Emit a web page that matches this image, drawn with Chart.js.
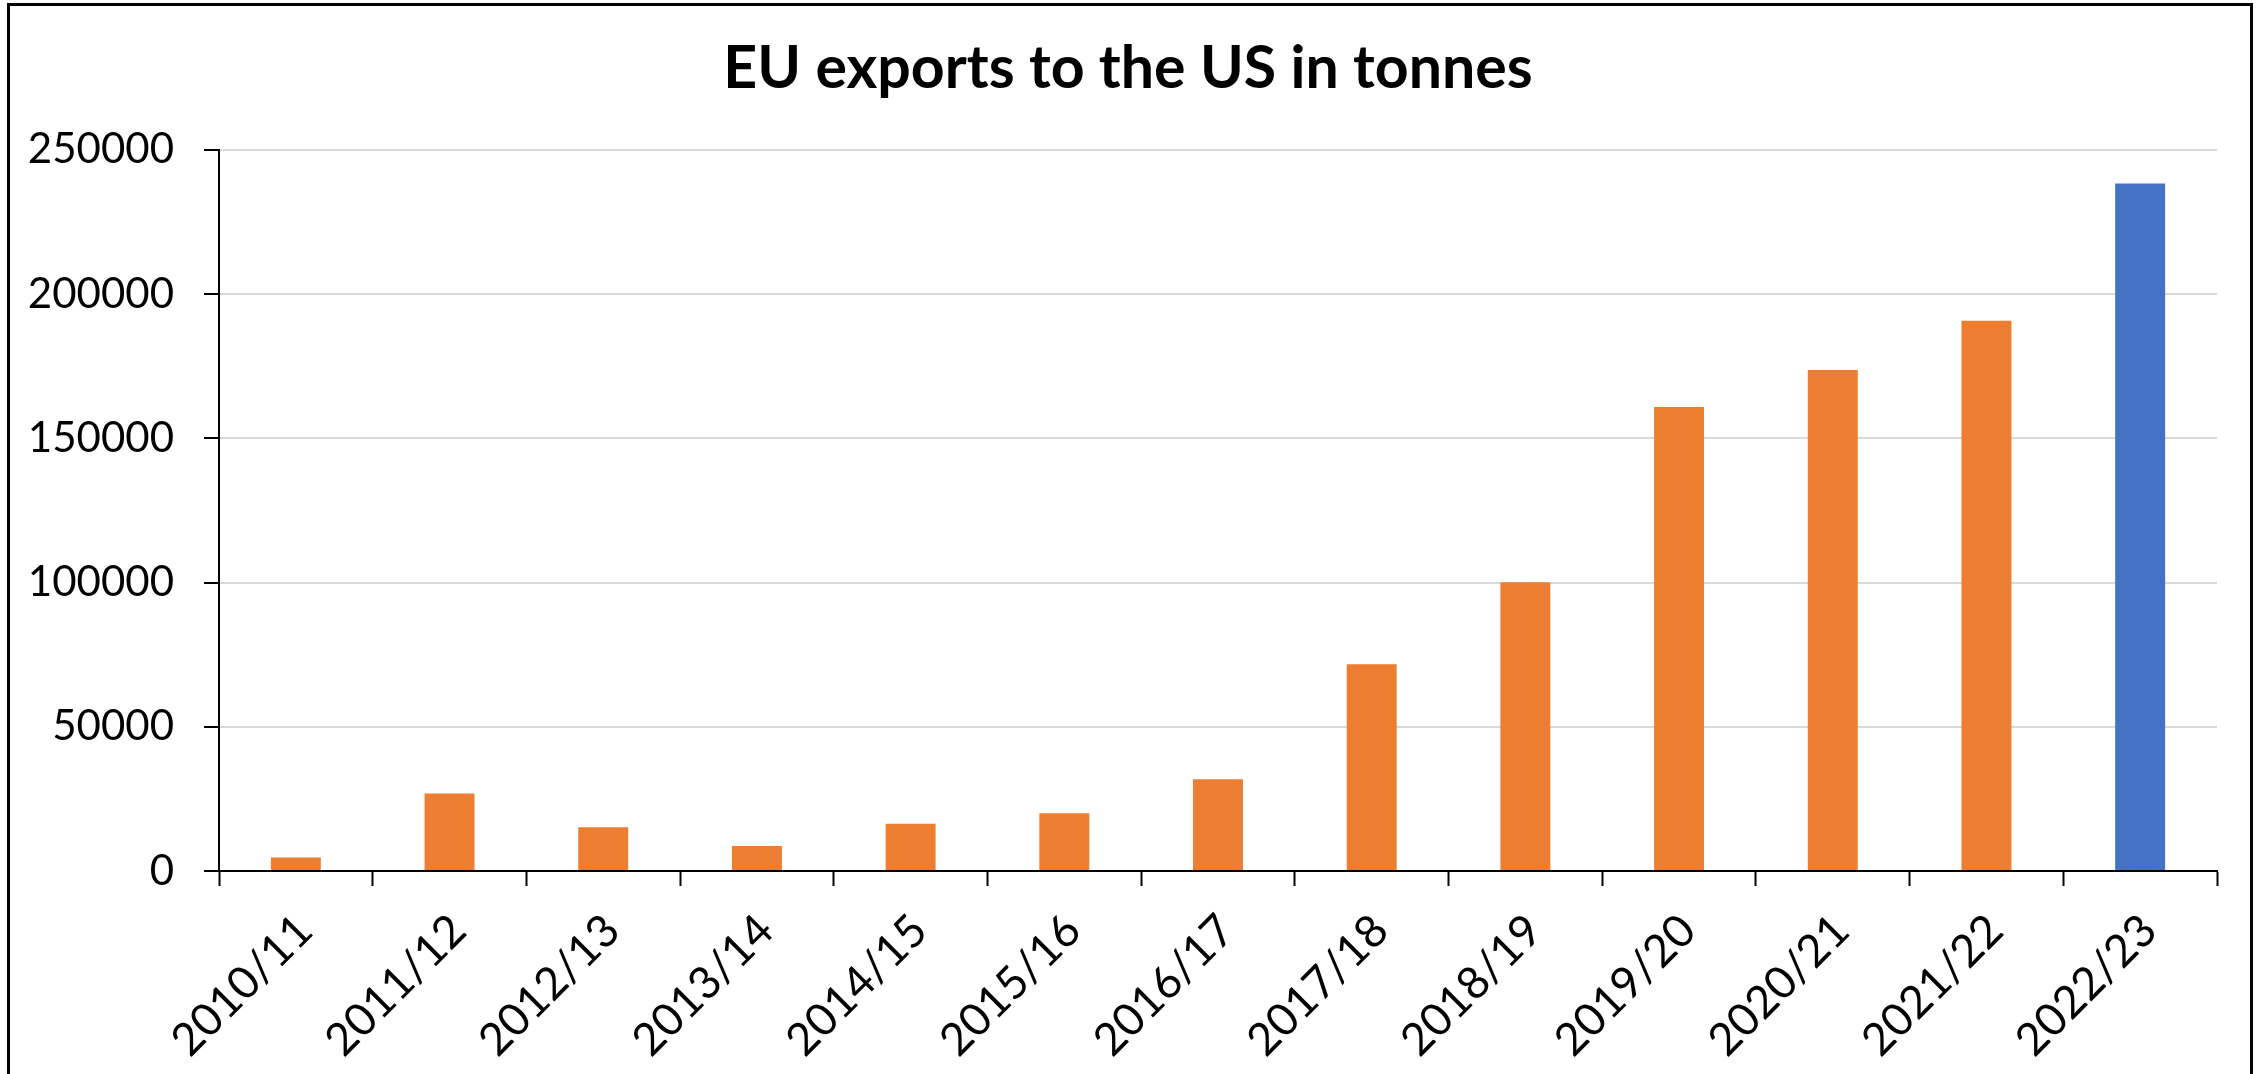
<!DOCTYPE html>
<html>
<head>
<meta charset="utf-8">
<script src="https://cdn.jsdelivr.net/npm/chart.js@4/dist/chart.umd.min.js"></script>
<style>
  html, body { margin: 0; padding: 0; background: #fff; }
  #wrap { position: absolute; left: 0; top: 0; width: 2256px; height: 1074px; }
  #frame { position: absolute; left: 7px; top: 3px; width: 2240px; height: 1080px; border: 3px solid #000; pointer-events: none; }
</style>
</head>
<body>
<div id="wrap"><canvas id="c"></canvas></div>
<div id="frame"></div>
<script>
const titleText = 'EU exports to the US in tonnes';
const categories = ['2010/11','2011/12','2012/13','2013/14','2014/15','2015/16','2016/17','2017/18','2018/19','2019/20','2020/21','2021/22','2022/23'];
const exportsTonnes = [4700, 26900, 15200, 8700, 16400, 20000, 31800, 71700, 100100, 160800, 173700, 190700, 238300];
const yTicks = [0, 50000, 100000, 150000, 200000, 250000];

const ORANGE = '#ED7D31';
const BLUE = '#4472C4';
const highlightIndex = categories.length - 1;
const barColors = categories.map((_, i) => i === highlightIndex ? BLUE : ORANGE);

const FONT = 'Lato, Calibri, Carlito, "Open Sans", sans-serif';

new Chart(document.getElementById('c'), {
  type: 'bar',
  data: {
    labels: categories,
    datasets: [{
      data: exportsTonnes,
      backgroundColor: barColors,
      borderWidth: 0,
      barPercentage: 0.325,
      categoryPercentage: 1.0,
      yAxisID: 'y'
    }]
  },
  options: {
    responsive: true,
    maintainAspectRatio: false,
    animation: false,
    layout: { padding: 0 },
    plugins: {
      legend: { display: false },
      tooltip: { enabled: false },
      title: {
        display: true,
        text: titleText,
        color: '#000',
        font: { family: FONT, size: 59, weight: 'bold', lineHeight: 1.2 },
        padding: { top: 34, bottom: 45 }
      }
    },
    scales: {
      x: {
        grid: { display: true, drawOnChartArea: false, drawTicks: true, tickLength: 15, tickColor: '#000', tickWidth: 2, offset: true },
        border: { display: true, color: '#000', width: 2 },
        ticks: {
          color: '#000',
          font: { family: FONT, size: 45 },
          maxRotation: 45, minRotation: 45,
          padding: 18,
          labelOffset: 9,
          autoSkip: false
        },
        afterFit(scale) { scale.height = 203; }
      },
      y: {
        min: 0, max: 250000,
        afterBuildTicks(scale) { scale.ticks = yTicks.map(v => ({ value: v })); },
        grid: { color: '#D9D9D9', lineWidth: 2, drawTicks: true, tickLength: 15, tickColor: '#000', tickWidth: 2 },
        border: { display: true, color: '#000', width: 2 },
        ticks: {
          color: '#000',
          font: { family: FONT, size: 42 },
          padding: 30,
          callback: (v) => String(v)
        },
        afterFit(scale) { scale.width = 219; }
      },
      spacer: {
        type: 'linear',
        position: 'right',
        display: true,
        min: 0, max: 1,
        grid: { display: false, drawOnChartArea: false, drawTicks: false },
        border: { display: false },
        ticks: { display: false },
        afterFit(scale) { scale.width = 39; }
      }
    }
  }
});
</script>
</body>
</html>
